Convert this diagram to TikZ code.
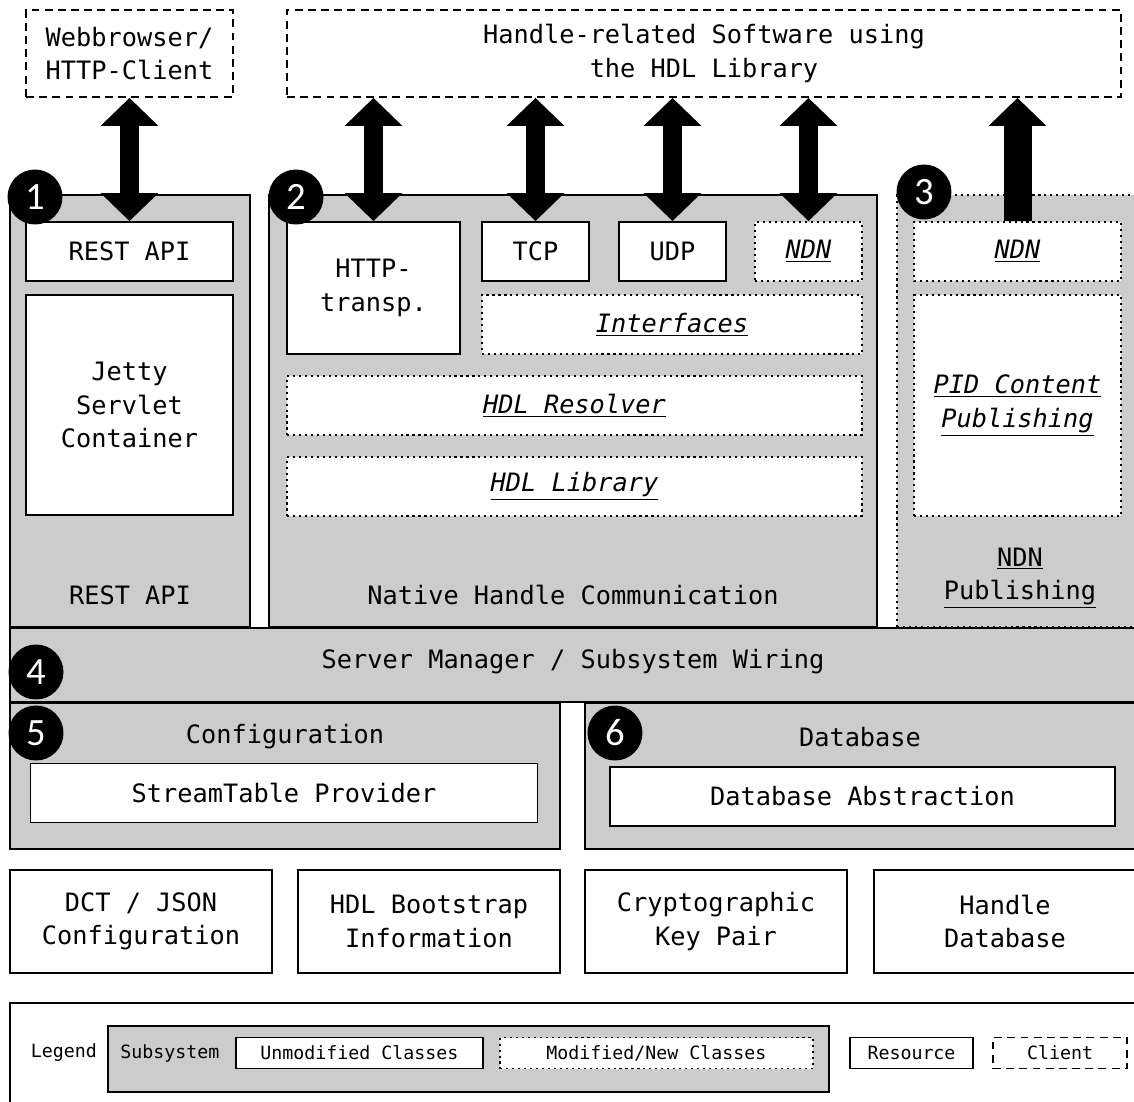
\documentclass[tikz,border=0pt]{standalone}
\usepackage{fontspec}
\setmainfont{DejaVu Sans Mono}
\newfontfamily\numfont{Carlito}
\usetikzlibrary{positioning, arrows.meta}
\tikzset{arr/.style={line width=0.38cm, <->, >={Triangle[length=0.56cm, width=1.12cm]}}}
\tikzset{uparr/.style={line width=0.56cm, ->, >={Triangle[length=0.56cm, width=1.12cm]}}}
\newcommand{\modtxt}[1]{\underline{\textit{#1}}}

\begin{document}
\begin{tikzpicture}[
      x=0.02cm, y=-0.02cm,
      every node/.style={font=\fontsize{14.4}{19}\selectfont, align=center, inner sep=0pt},
      wh/.style 2 args={minimum width=#1*0.02cm, minimum height=#2*0.02cm},
      subsys/.style={draw, fill=black!20, line width=1pt},
      subsysnew/.style={subsys, dash pattern=on 1.2pt off 2.2pt},
      unmod/.style={draw, fill=white, line width=1pt},
      modcls/.style={draw, fill=white, line width=1pt, dash pattern=on 1.2pt off 2.2pt},
      resource/.style={draw, fill=white, line width=1pt},
      client/.style={draw, fill=white, line width=1pt, dash pattern=on 4.5pt off 3pt},
      num/.style={circle, fill=black, text=white, minimum size=1.1cm, font=\numfont\fontsize{22}{22}\selectfont},
      legendtxt/.style={font=\fontsize{10.4}{12}\selectfont},
  ]
      \useasboundingbox (0,0) rectangle (1134,1102);
      \clip (0,0) rectangle (1134,1102);

      % Clients on top (dashed borders)
      \node[client, wh={207}{87}] (web) at (129.5,53.5) {Webbrowser/\\HTTP-Client};
      \node[client, wh={834}{87}] (hdlsw) at (704,53.5) {Handle-related Software using\\the HDL Library};

      % Subsystem 1: REST API
      \node[subsys, wh={240}{432}] (rest) at (130,411) {};
      \node[unmod, wh={207}{59}] (restapi) at (129.5,251.5) {REST API};
      \node[unmod, wh={207}{220}] (jetty) at (129.5,405) {Jetty\\Servlet\\Container};
      \node (restlbl) at (130,595) {REST API};

      % Subsystem 2: Native Handle Communication
      \node[subsys, wh={608}{432}] (native) at (573,411) {};
      \node[unmod, wh={173}{132}] (http) at (373.5,288) {HTTP-\\transp.};
      \node[unmod, wh={107}{59}] (tcp) at (535.5,251.5) {TCP};
      \node[unmod, wh={107}{59}] (udp) at (672.5,251.5) {UDP};
      \node[modcls, wh={107}{59}] (ndnone) at (808.5,251.5) {\modtxt{NDN}};
      \node[modcls, wh={380}{59}] (ifaces) at (672,324.5) {\modtxt{Interfaces}};
      \node[modcls, wh={575}{59}] (resolver) at (574.5,405.5) {\modtxt{HDL Resolver}};
      \node[modcls, wh={575}{59}] (library) at (574.5,486.5) {\modtxt{HDL Library}};
      \node (nativelbl) at (573,595) {Native Handle Communication};

      % Subsystem 3: NDN Publishing (dotted border)
      \node[subsysnew, wh={253}{432}] (ndnpub) at (1023.5,411) {};
      \node[modcls, wh={207}{59}] (ndntwo) at (1017.5,251.5) {\modtxt{NDN}};
      \node[modcls, wh={207}{221}] (pid) at (1017.5,405.5) {\modtxt{PID Content}\\\modtxt{Publishing}};
      \node (ndnpublbl) at (1020,578) {\underline{NDN}\\\underline{Publishing}};

      % Subsystem 4: Server Manager
      \node[subsys, wh={1140}{74}] (manager) at (580,665) {};
      \node (managerlbl) at (573,662) {Server Manager / Subsystem Wiring};

      % Subsystems 5 and 6
      \node[subsys, wh={550}{146}] (config) at (285,776) {};
      \node (configlbl) at (285,737) {Configuration};
      \node[unmod, wh={507}{59}] (stp) at (284,793) {StreamTable Provider};
      \node[subsys, wh={565}{146}] (database) at (867.5,776) {};
      \node (databaselbl) at (860,737) {Database};
      \node[unmod, wh={505}{59}] (dbabs) at (862.5,796.5) {Database Abstraction};

      % Resources
      \node[resource, wh={262}{103}] (dct) at (141,921.5) {DCT / JSON\\Configuration};
      \node[resource, wh={262}{103}] (boot) at (429,921.5) {HDL Bootstrap\\Information};
      \node[resource, wh={262}{103}] (keypair) at (716,921.5) {Cryptographic\\Key Pair};
      \node[resource, wh={262}{103}] (hdb) at (1005,921.5) {Handle\\Database};

      % Numbered circles
      \node[num] (n1) at (35,197) {1};
      \node[num] (n2) at (296,197) {2};
      \node[num] (n3) at (924,192) {3};
      \node[num] (n4) at (36,672) {4};
      \node[num] (n5) at (36,733) {5};
      \node[num] (n6) at (615,733) {6};

      % Client <-> subsystem arrows
      \draw[arr] (web) -- (restapi);
      \draw[arr] (http.north |- hdlsw.south) -- (http.north);
      \draw[arr] (tcp.north |- hdlsw.south) -- (tcp.north);
      \draw[arr] (udp.north |- hdlsw.south) -- (udp.north);
      \draw[arr] (ndnone.north |- hdlsw.south) -- (ndnone.north);
      \draw[uparr] (ndntwo.north) -- (ndntwo.north |- hdlsw.south);

      % Legend
      \node[resource, wh={1140}{110}] (legend) at (580,1058) {};
      \node[legendtxt] (legendlbl) at (64,1053) {Legend};
      \node[subsys, wh={721}{66}] (lsub) at (468.5,1059) {};
      \node[legendtxt] (lsublbl) at (170,1053) {Subsystem};
      \node[unmod, legendtxt, wh={247}{31}] (lunmod) at (359.5,1053) {Unmodified Classes};
      \node[modcls, legendtxt, wh={313}{31}] (lmod) at (656.5,1053) {Modified/New Classes};
      \node[resource, legendtxt, wh={123}{31}] (lres) at (911.5,1053) {Resource};
      \node[client, legendtxt, wh={134}{31}] (lclient) at (1060,1053) {Client};

\end{tikzpicture}
\end{document}
